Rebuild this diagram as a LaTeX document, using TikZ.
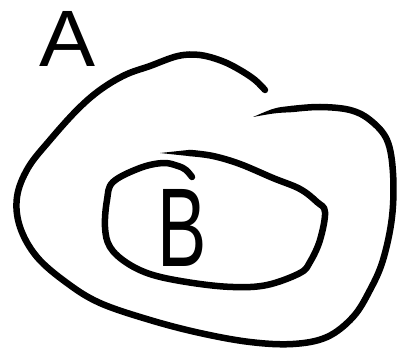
\documentclass[tikz,border=0pt]{standalone}
\usepackage{fontspec}
\setmainfont{Liberation Sans}
\begin{document}
\begin{tikzpicture}[x=1pt,y=-1pt,
  ink/.style={line width=6.5pt,line cap=round,line join=round},
  hand/.style={inner sep=0pt,font=\fontsize{80}{80}\selectfont}]
\useasboundingbox (0,0) rectangle (409,358);
% outer set A
\draw[ink] plot[smooth,tension=0.6] coordinates {(265,90) (255,80) (240,70) (222,61) (200,55) (178,56) (150,66) (125,75) (100,90) (77,110) (50,140) (28,168) (17,197) (20,227) (37,257) (67,283) (100,303) (150,320) (200,333) (250,342) (293,344) (327,337) (353,317) (370,290) (383,260) (392,217) (393,173) (387,140) (370,120) (350,110) (320,107) (292,109)};
\fill (292,105.8) .. controls (275,107.5) .. (253,117) .. controls (275,113) .. (292,112.2) -- cycle;
% inner set B
\draw[ink] plot[smooth,tension=0.6] coordinates {(192,177) (186,170) (178,166) (163,163) (140,168) (113,182) (107,200) (105,227) (110,247) (127,263) (153,275) (193,283) (233,287) (267,285) (300,273) (310,262) (320,240) (325,212) (317,202) (300,189) (273,178) (240,164) (213,156) (190,153)};
\fill (190,149.8) .. controls (175,150.5) .. (160,153) .. controls (175,155.5) .. (190,156.2) -- cycle;
% labels
\node[hand,xscale=1.05] (labelA) at (68,39) {A};
\node[hand,xscale=0.66,font=\fontsize{112}{112}\selectfont] (labelB) at (182,228) {B};
\end{tikzpicture}
\end{document}
